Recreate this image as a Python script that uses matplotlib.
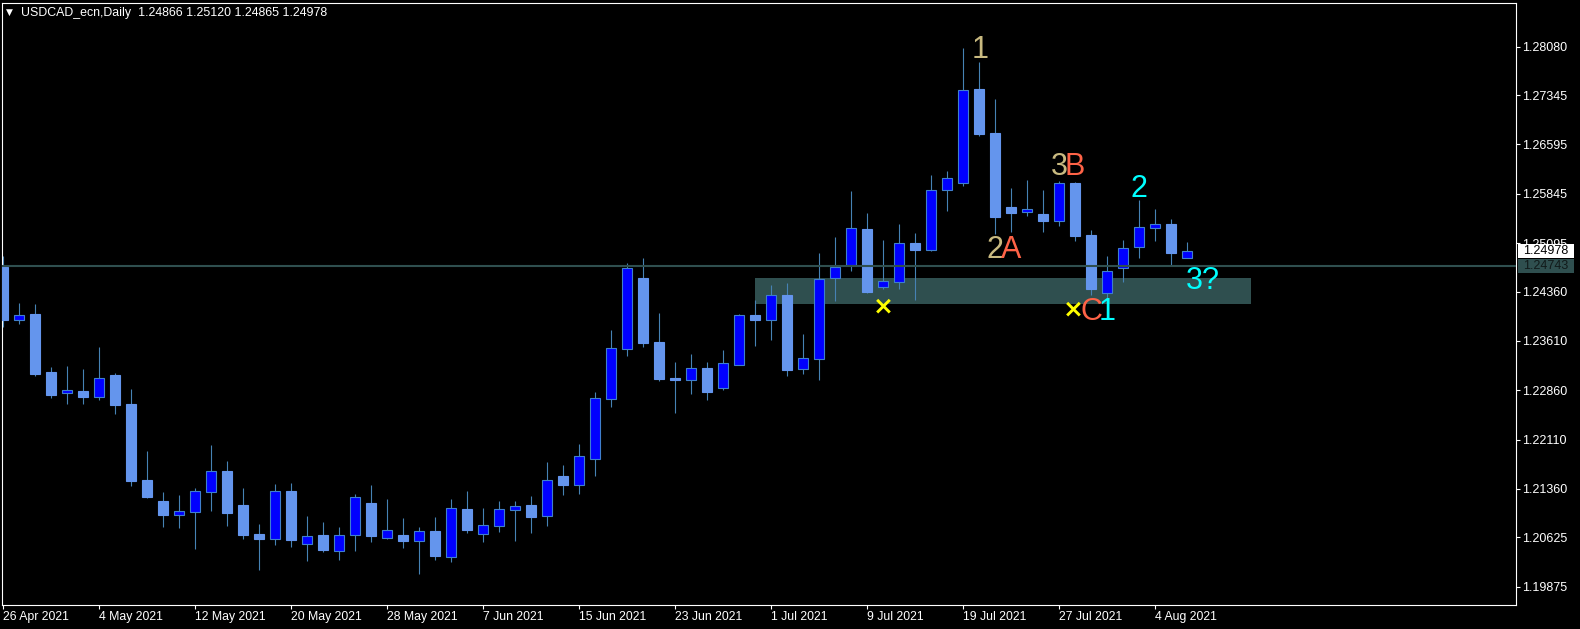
import numpy as np
import pandas as pd
import matplotlib
matplotlib.use('Agg')
from matplotlib import pyplot as plt
from matplotlib.patches import Rectangle
import matplotlib.transforms as mtransforms

# USDCAD daily candles, 26 Apr 2021 .. 6 Aug 2021
dates = pd.bdate_range('2021-04-26', '2021-08-06')
opens = [1.24737, 1.23932, 1.24018, 1.23137, 1.22823, 1.22848, 1.22762, 1.23092, 1.22651, 1.21496,
         1.21177, 1.20969, 1.21014, 1.21318, 1.21633, 1.21116, 1.20675, 1.20604, 1.21329, 1.20528,
         1.20660, 1.20422, 1.20665, 1.21147, 1.20619, 1.20660, 1.20574, 1.20721, 1.20331, 1.21055,
         1.20680, 1.20802, 1.21045, 1.21116, 1.20954, 1.21557, 1.21425, 1.21820, 1.22731, 1.23491,
         1.24565, 1.23593, 1.23046, 1.23020, 1.23198, 1.22898, 1.23248, 1.24003, 1.23932, 1.24307,
         1.23187, 1.23339, 1.24573, 1.24758, 1.25310, 1.24436, 1.24512, 1.25093, 1.24998, 1.25898,
         1.26004, 1.27437, 1.26769, 1.25644, 1.25573, 1.25538, 1.25436, 1.26004, 1.25219, 1.24345,
         1.24713, 1.25032, 1.25321, 1.25386, 1.24866]
highs = [1.24900, 1.24190, 1.24170, 1.23218, 1.23228, 1.23183, 1.23517, 1.23122, 1.22879, 1.21937,
         1.21314, 1.21268, 1.21374, 1.22028, 1.21785, 1.21374, 1.20827, 1.21435, 1.21450, 1.20949,
         1.20858, 1.20782, 1.21283, 1.21420, 1.21207, 1.20919, 1.20782, 1.20934, 1.21207, 1.21329,
         1.21071, 1.21177, 1.21177, 1.21253, 1.21770, 1.21724, 1.22043, 1.22833, 1.23775, 1.24793,
         1.24869, 1.24034, 1.23289, 1.23411, 1.23289, 1.23471, 1.24018, 1.24231, 1.24459, 1.24489,
         1.23714, 1.24945, 1.25188, 1.25887, 1.25553, 1.25143, 1.25386, 1.25249, 1.26130, 1.26191,
         1.28060, 1.27848, 1.27285, 1.25933, 1.26055, 1.25903, 1.26039, 1.26029, 1.25295, 1.24900,
         1.25143, 1.25751, 1.25614, 1.25462, 1.25120]
lows = [1.23825, 1.23866, 1.23076, 1.22747, 1.22651, 1.22651, 1.22712, 1.22499, 1.21405, 1.21223,
        1.20782, 1.20767, 1.20448, 1.21025, 1.20797, 1.20600, 1.20128, 1.20508, 1.20478, 1.20265,
        1.20402, 1.20280, 1.20417, 1.20554, 1.20600, 1.20463, 1.20068, 1.20280, 1.20250, 1.20691,
        1.20554, 1.20706, 1.20569, 1.20691, 1.20797, 1.21268, 1.21283, 1.21557, 1.22605, 1.23380,
        1.23517, 1.23000, 1.22514, 1.22803, 1.22712, 1.22864, 1.23243, 1.23532, 1.23623, 1.23081,
        1.23111, 1.23020, 1.24216, 1.24672, 1.24337, 1.24398, 1.24398, 1.24231, 1.24983, 1.25583,
        1.25963, 1.26723, 1.25239, 1.25269, 1.25512, 1.25269, 1.25360, 1.25132, 1.24307, 1.24231,
        1.24509, 1.24874, 1.25132, 1.24763, 1.24865]
closes = [1.23927, 1.24003, 1.23107, 1.22788, 1.22859, 1.22757, 1.23041, 1.22636, 1.21485, 1.21238,
          1.20964, 1.21020, 1.21329, 1.21633, 1.20995, 1.20660, 1.20600, 1.21329, 1.20584, 1.20645,
          1.20432, 1.20660, 1.21238, 1.20645, 1.20736, 1.20569, 1.20721, 1.20341, 1.21071, 1.20736,
          1.20812, 1.21055, 1.21101, 1.20934, 1.21496, 1.21420, 1.21861, 1.22742, 1.23502, 1.24717,
          1.23578, 1.23031, 1.23020, 1.23198, 1.22838, 1.23274, 1.24003, 1.23927, 1.24307, 1.23167,
          1.23350, 1.24550, 1.24740, 1.25321, 1.24353, 1.24515, 1.25093, 1.24995, 1.25898, 1.26080,
          1.27417, 1.26758, 1.25497, 1.25558, 1.25609, 1.25436, 1.26004, 1.25208, 1.24403, 1.24667,
          1.25017, 1.25336, 1.25381, 1.24950, 1.24978]

ytick_values = [1.28080, 1.27345, 1.26595, 1.25845, 1.25095, 1.24360,
                1.23610, 1.22860, 1.22110, 1.21360, 1.20625, 1.19875]
level_price = 1.24743
zone_low, zone_high = 1.24170, 1.24570
zone_from, zone_to = 47, 78

KHAKI = '#C9BA80'
RED = '#FF6347'
CYAN = '#00FFFF'
YELLOW = '#FFFF00'
# wave labels: text, bar index, price, colour
labels = [
    ('1', 61.05, 1.28030, KHAKI),
    ('3', 66.03, 1.26257, KHAKI),
    ('B', 66.98, 1.26257, RED),
    ('2', 70.98, 1.25913, CYAN),
    ('2', 61.96, 1.24991, KHAKI),
    ('A', 62.99, 1.24991, RED),
    ('3?', 74.98, 1.24524, CYAN),
    ('C', 68.00, 1.24053, RED),
    ('1', 69.00, 1.24053, CYAN),
]
crosses = [(54.98, 1.24130), (66.85, 1.24080)]

plt.rcParams['font.family'] = ['Liberation Sans', 'DejaVu Sans']

fig = plt.figure(figsize=(15.8, 6.29), dpi=100, facecolor='black')
W, H = 1580, 629
ax = fig.add_axes([2 / W, 24 / H, 1514 / W, 602 / H])
ax.set_facecolor('black')

o = np.array(opens)
h = np.array(highs)
l = np.array(lows)
c = np.array(closes)
x = np.arange(len(o))
up = c >= o

ax.add_patch(Rectangle((zone_from, zone_low), zone_to - zone_from, zone_high - zone_low,
                       facecolor='#2F4F4F', edgecolor='none', zorder=1))
ax.vlines(x, l, h, color='#4682B4', lw=0.8, zorder=2)
ax.bar(x[up], (c - o)[up], bottom=o[up], width=0.64, color='#0000FF',
       edgecolor='#3F7FCC', linewidth=0.8, zorder=3)
ax.bar(x[~up], (o - c)[~up], bottom=c[~up], width=0.64, color='#6495ED',
       edgecolor='#6495ED', linewidth=0.8, zorder=3)
ax.axhline(level_price, color='#2F4F4F', lw=1.5, zorder=4)

for txt, xi, yp, col in labels:
    ax.text(xi, yp, txt, color=col, fontsize=22, ha='center', va='center', zorder=6)
for xi, yp in crosses:
    ax.text(xi, yp, '×', color=YELLOW, fontsize=18, fontweight='bold',
            family='DejaVu Sans', ha='center', va='center', zorder=6)

ax.set_xlim(-0.08, 94.54)
ax.set_ylim(1.19597, 1.28744)

# axes
for s in ax.spines.values():
    s.set_color('white')
    s.set_linewidth(0.8)
ax.yaxis.tick_right()
ax.set_yticks(ytick_values)
ax.set_yticklabels([f'{v:.5f}' for v in ytick_values])
ax.tick_params(axis='y', colors='white', length=3, width=0.8, pad=1.5, labelsize=9)

tick_pos = list(range(0, len(dates), 6))
ax.set_xticks(tick_pos)
ax.set_xticklabels([f'{dates[i].day} {dates[i]:%b %Y}' for i in tick_pos])
ax.tick_params(axis='x', colors='white', length=3, width=0.8, pad=1.5, labelsize=8.8)
for lbl in ax.get_xticklabels():
    lbl.set_horizontalalignment('left')

# price tags on the right scale
tr = mtransforms.blended_transform_factory(ax.transAxes, ax.transData)
half = 0.00106
for price, fc, tc in [(closes[-1], 'white', 'black'), (level_price, '#2F4F4F', '#111A1A')]:
    ax.add_patch(Rectangle((1.0012, price - half), 56 / 1514, 2 * half, transform=tr,
                           facecolor=fc, edgecolor='none', clip_on=False, zorder=7))
    ax.text(1.0 + 7 / 1514, price, f'{price:.5f}', transform=tr, color=tc, fontsize=9,
            ha='left', va='center', clip_on=False, zorder=8)

# header
fig.text(6 / W, 1 - 12 / H, '▼', color='white', fontsize=6.5, family='DejaVu Sans',
         ha='left', va='center')
fig.text(21 / W, 1 - 13 / H,
         f'USDCAD_ecn,Daily  {opens[-1]:.5f} {highs[-1]:.5f} {lows[-1]:.5f} {closes[-1]:.5f}',
         color='white', fontsize=8.9, ha='left', va='center')

fig.savefig('out.png', dpi=100, facecolor='black')
